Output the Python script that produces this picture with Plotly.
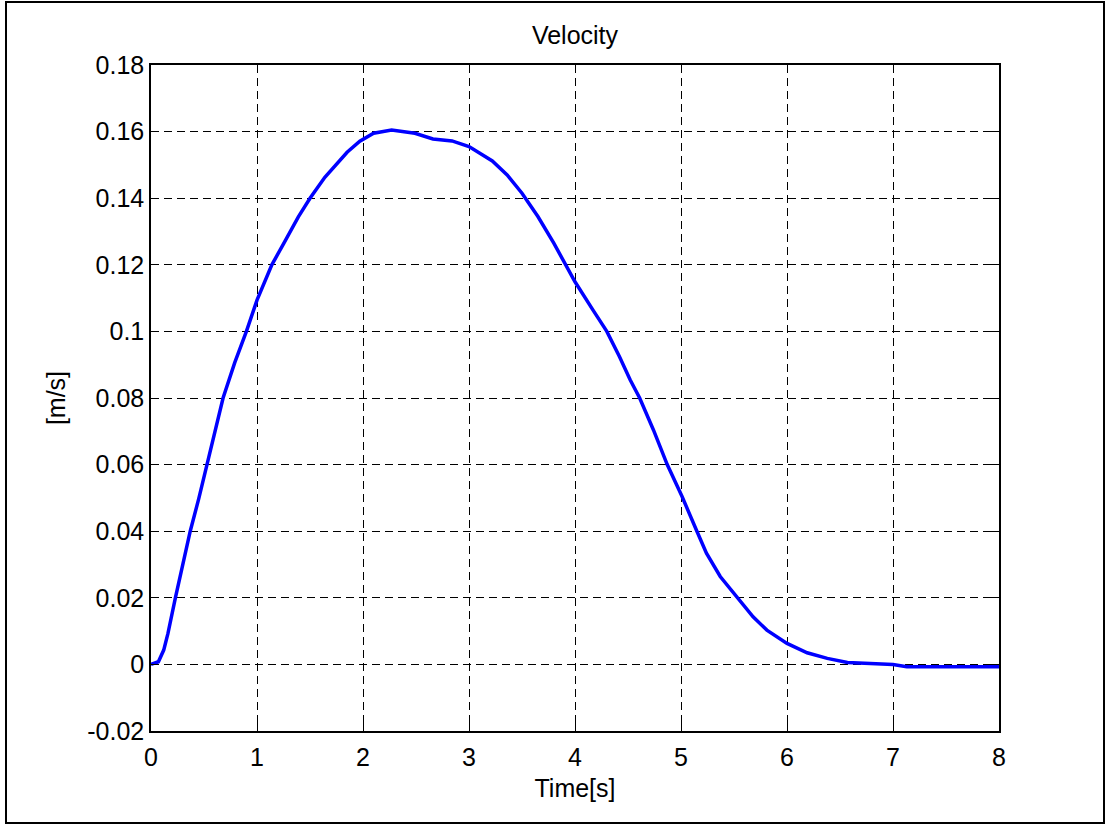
import plotly.graph_objects as go

# Velocity profile samples: time [s] and velocity [m/s]
time_s = [0, 0.07, 0.12, 0.16, 0.23, 0.3, 0.37, 0.45, 0.53, 0.6, 0.68, 0.79, 0.9,
          1.0, 1.14, 1.25, 1.39, 1.5, 1.64, 1.85, 1.97, 2.1, 2.27, 2.49, 2.66,
          2.84, 3.0, 3.22, 3.36, 3.5, 3.65, 3.8, 4.0, 4.17, 4.3, 4.42, 4.52,
          4.61, 4.74, 4.87, 5.01, 5.15, 5.24, 5.37, 5.53, 5.68, 5.81, 6.0, 6.19,
          6.38, 6.57, 6.82, 7.0, 7.13, 7.5, 8.0]
velocity = [0, 0.0008, 0.0043, 0.0093, 0.02, 0.0304, 0.04, 0.0497, 0.06, 0.0697,
            0.08, 0.0906, 0.10, 0.1094, 0.12, 0.1263, 0.1344, 0.14, 0.1463,
            0.1538, 0.1571, 0.1595, 0.1605, 0.1595, 0.1578, 0.1572, 0.1555,
            0.1512, 0.147, 0.1415, 0.1345, 0.1265, 0.1149, 0.1064, 0.10, 0.0924,
            0.0855, 0.08, 0.0704, 0.06, 0.0504, 0.04, 0.0334, 0.0264, 0.02,
            0.0143, 0.0103, 0.0063, 0.0035, 0.0018, 0.0006, 0.0001, 0.0,
            -0.0007, -0.0007, -0.0007]

x_ticks = [0, 1, 2, 3, 4, 5, 6, 7, 8]
y_ticks = [-0.02, 0, 0.02, 0.04, 0.06, 0.08, 0.1, 0.12, 0.14, 0.16, 0.18]
y_tick_text = ["-0.02", "0", "0.02", "0.04", "0.06", "0.08", "0.1", "0.12",
               "0.14", "0.16", "0.18"]

FONT = "Liberation Sans, Arial, sans-serif"
FS = 25
W, H = 1107, 825
L, R, T, B = 151, 108, 65, 94
pw, ph = W - L - R, H - T - B

fig = go.Figure(go.Scatter(x=time_s, y=velocity, mode="lines",
                           line=dict(color="#0000ff", width=3.5),
                           showlegend=False))

axis_common = dict(
    showline=True, linecolor="black", linewidth=1.5, mirror="ticks",
    ticks="inside", ticklen=8, tickcolor="black", tickwidth=1,
    showgrid=True, gridcolor="black", gridwidth=1, griddash="8px,5px",
    zeroline=False, tickfont=dict(family=FONT, size=FS, color="black"),
)

fig.update_xaxes(range=[0, 8], tickvals=x_ticks, ticklabelstandoff=3, **axis_common,
                 title=dict(text="Time[s]", font=dict(family=FONT, size=FS, color="black"),
                            standoff=10))
fig.update_yaxes(range=[-0.02, 0.18], tickvals=y_ticks, ticktext=y_tick_text,
                 **axis_common,
                 title=dict(text="[m/s]", font=dict(family=FONT, size=FS, color="black"),
                            standoff=15))

# outer figure frame
fig.add_shape(type="rect", xref="paper", yref="paper",
              x0=(6 - L) / pw, x1=(1104 - L) / pw,
              y0=(H - B - 823) / ph, y1=(H - B - 2) / ph,
              line=dict(color="black", width=2), layer="below")

fig.update_layout(
    width=W, height=H, autosize=False,
    margin=dict(l=L, r=R, t=T, b=B),
    paper_bgcolor="white", plot_bgcolor="white",
    title=dict(text="Velocity", x=575 / W, xanchor="center",
               y=1 - 35 / H, yanchor="middle",
               font=dict(family=FONT, size=FS, color="black")),
)

fig.write_html("out.html")
